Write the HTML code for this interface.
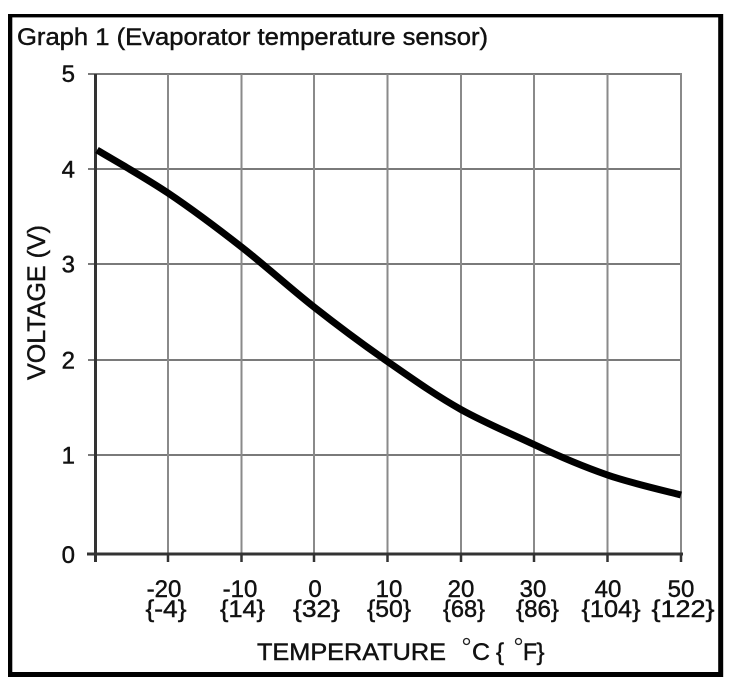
<!DOCTYPE html>
<html>
<head>
<meta charset="utf-8">
<style>
html,body{margin:0;padding:0;background:#fff;}
svg{display:block;}
text{font-family:"Liberation Sans",Arial,sans-serif;fill:#111;stroke:#111;stroke-width:0.45px;}
</style>
</head>
<body>
<svg width="734" height="686" viewBox="0 0 734 686" xmlns="http://www.w3.org/2000/svg">
<rect x="0" y="0" width="734" height="686" fill="#fff"/>
<!-- frame -->
<rect x="8" y="14" width="4.3" height="663" fill="#000"/>
<rect x="8" y="14" width="715" height="3.4" fill="#000"/>
<rect x="718.2" y="14" width="5" height="663" fill="#000"/>
<rect x="8" y="672" width="715" height="5" fill="#000"/>

<!-- title -->
<text x="17" y="45" font-size="24" textLength="471" lengthAdjust="spacingAndGlyphs">Graph 1 (Evaporator temperature sensor)</text>

<!-- horizontal gridlines -->
<g stroke="#7a7a7a" stroke-width="2">
<line x1="88" y1="74" x2="682" y2="74"/>
<line x1="88" y1="169" x2="681" y2="169"/>
<line x1="88" y1="264" x2="681" y2="264"/>
<line x1="88" y1="360" x2="681" y2="360"/>
<line x1="88" y1="455" x2="681" y2="455"/>
</g>
<!-- vertical gridlines -->
<g stroke="#8a8a8a" stroke-width="2">
<line x1="168" y1="74" x2="168" y2="554"/>
<line x1="241.5" y1="74" x2="241.5" y2="554"/>
<line x1="314" y1="74" x2="314" y2="554"/>
<line x1="387.5" y1="74" x2="387.5" y2="554"/>
<line x1="461" y1="74" x2="461" y2="554"/>
<line x1="534" y1="74" x2="534" y2="554"/>
<line x1="607.5" y1="74" x2="607.5" y2="554"/>
<line x1="681" y1="73" x2="681" y2="554"/>
</g>
<!-- x ticks -->
<g stroke="#333" stroke-width="2.5">
<line x1="168" y1="554" x2="168" y2="562"/>
<line x1="241.5" y1="554" x2="241.5" y2="562"/>
<line x1="314" y1="554" x2="314" y2="562"/>
<line x1="387.5" y1="554" x2="387.5" y2="562"/>
<line x1="461" y1="554" x2="461" y2="562"/>
<line x1="534" y1="554" x2="534" y2="562"/>
<line x1="607.5" y1="554" x2="607.5" y2="562"/>
<line x1="681" y1="554" x2="681" y2="562"/>
</g>
<!-- axes -->
<line x1="95.5" y1="74" x2="95.5" y2="562" stroke="#333" stroke-width="3"/>
<line x1="87" y1="554" x2="683" y2="554" stroke="#333" stroke-width="3"/>

<!-- y tick labels -->
<g font-size="24" text-anchor="end">
<text x="75" y="82">5</text>
<text x="75" y="177.5">4</text>
<text x="75" y="272.5">3</text>
<text x="75" y="368.5">2</text>
<text x="75" y="463.5">1</text>
<text x="75" y="563">0</text>
</g>

<!-- y axis title -->
<text x="45" y="302.5" font-size="25" text-anchor="middle" textLength="155" lengthAdjust="spacingAndGlyphs" transform="rotate(-90 45 302.5)">VOLTAGE (V)</text>

<!-- x tick labels -->
<g font-size="24" text-anchor="middle">
<text x="164" y="597">-20</text>
<text x="240" y="597">-10</text>
<text x="315" y="597">0</text>
<text x="389" y="597">10</text>
<text x="461" y="597">20</text>
<text x="533" y="597">30</text>
<text x="608" y="597">40</text>
<text x="681" y="597">50</text>
<text x="166" y="617" textLength="41" lengthAdjust="spacingAndGlyphs">{-4}</text>
<text x="242.5" y="617" textLength="45" lengthAdjust="spacingAndGlyphs">{14}</text>
<text x="316.5" y="617" textLength="47" lengthAdjust="spacingAndGlyphs">{32}</text>
<text x="389" y="617" textLength="44" lengthAdjust="spacingAndGlyphs">{50}</text>
<text x="464" y="617" textLength="42" lengthAdjust="spacingAndGlyphs">{68}</text>
<text x="537.5" y="617" textLength="43" lengthAdjust="spacingAndGlyphs">{86}</text>
<text x="611" y="617" textLength="59" lengthAdjust="spacingAndGlyphs">{104}</text>
<text x="683" y="617" textLength="63" lengthAdjust="spacingAndGlyphs">{122}</text>
</g>

<!-- x axis title -->
<g font-size="24">
<text x="257" y="660" textLength="189" lengthAdjust="spacingAndGlyphs">TEMPERATURE</text>
<text x="472" y="660" textLength="18" lengthAdjust="spacingAndGlyphs">C</text>
<text x="496" y="660">{</text>
<text x="523" y="660" textLength="14" lengthAdjust="spacingAndGlyphs">F</text>
<text x="536.5" y="660">}</text>
</g>
<circle cx="466.5" cy="641.5" r="3" fill="none" stroke="#222" stroke-width="1.3"/>
<circle cx="518.5" cy="641.5" r="3" fill="none" stroke="#222" stroke-width="1.3"/>

<!-- curve -->
<path d="M97,150 C108.8,157.2 143.9,176.8 168,193 C192.1,209.2 217.2,228 241.5,247 C265.8,266 289.7,287.9 314,307 C338.3,326.1 363,344.5 387.5,361.5 C412,378.5 436.6,396 461,409.5 C485.4,423 509.6,433 534,444.5 C558.4,456 583,466.5 607.5,475 C632,483.5 668.75,491.7 681,495" fill="none" stroke="#000" stroke-width="7"/>
</svg>
</body>
</html>
